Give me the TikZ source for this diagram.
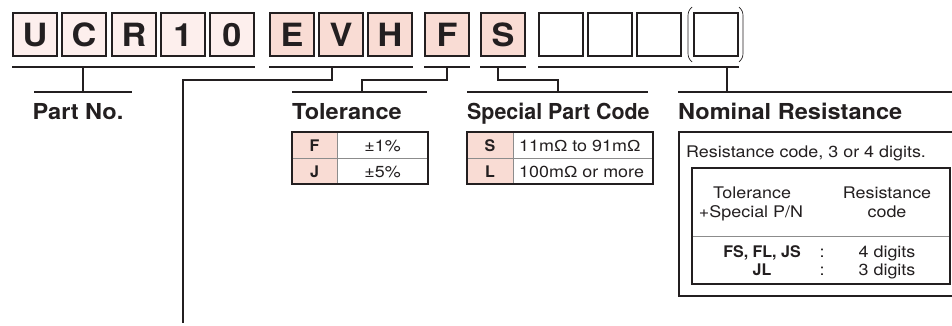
\documentclass[tikz,border=0pt]{standalone}
\usepackage{fontspec}
\setmainfont{TeX Gyre Heros}[FakeStretch=1.12]
\newfontfamily\hdfont{TeX Gyre Heros}[FakeStretch=1.07]
\newfontfamily\plainfont{TeX Gyre Heros}
\newfontfamily\omfont{Liberation Sans}[FakeStretch=1.12]
\newcommand{\Om}{{\omfont Ω}}
\definecolor{ink}{HTML}{231F20}
\definecolor{pinkA}{HTML}{FDEFED}
\definecolor{pinkB}{HTML}{F9DCD4}
\definecolor{rulegray}{HTML}{8C8C8C}
\tikzset{
  cbox/.style={draw=ink, line width=2.4pt, minimum width=43.6pt, minimum height=42.6pt,
    inner sep=0pt, outer sep=0pt, text=ink, font=\hdfont\bfseries\fontsize{32}{32}\selectfont,
    text height=23pt, text depth=0pt},
  lightbox/.style={cbox, fill=pinkA},
  darkbox/.style={cbox, fill=pinkB},
  blankbox/.style={cbox, fill=white},
  conn/.style={draw=ink, line width=2pt},
  paren/.style={draw=ink, line width=0.7pt},
  hd/.style={font=\hdfont\bfseries\fontsize{22}{22}\selectfont, text=ink, inner sep=0pt},
  body/.style={font=\fontsize{16}{16}\selectfont, text=ink, inner sep=0pt},
  bodyb/.style={font=\plainfont\bfseries\fontsize{16}{16}\selectfont, text=ink, inner sep=0pt},
  frame/.style={draw=ink, line width=2pt},
  thin/.style={draw=rulegray, line width=0.8pt}
}
\begin{document}
\begin{tikzpicture}[x=1pt,y=-1pt]
\useasboundingbox[fill=white] (0,0) rectangle (952,325);
% code boxes
\node[lightbox] (bU) at (35,34.5) {U};
\node[lightbox] (bC) at (84,34.5) {C};
\node[lightbox] (bR) at (134,34.5) {R};
\node[lightbox] (b1) at (183,34.5) {1};
\node[lightbox] (b0) at (232,34.5) {0};
\node[darkbox] (bE) at (292,34.5) {E};
\node[darkbox] (bV) at (341,34.5) {V};
\node[darkbox] (bH) at (390,34.5) {H};
\node[darkbox] (bF) at (447,34.5) {F};
\node[darkbox] (bS) at (503,34.5) {S};
\node[blankbox] (n1) at (561,34.5) {};
\node[blankbox] (n2) at (610,34.5) {};
\node[blankbox] (n3) at (659,34.5) {};
\node[blankbox] (n4) at (716,34.5) {};
% parentheses around the optional digit
\draw[paren] (692,7) .. controls (689,10) and (688,12) .. (688,16) -- (688,53) .. controls (688,57) and (689,59) .. (692,62);
\draw[paren] (739,7) .. controls (742,10) and (743,12) .. (743,16) -- (743,53) .. controls (743,57) and (742,59) .. (739,62);
% underlines
\coordinate (uPa) at (12,67);  \coordinate (uPb) at (255,67);
\coordinate (uEa) at (269,67); \coordinate (uEb) at (413,67);
\coordinate (uFa) at (424,67); \coordinate (uFb) at (470,67);
\coordinate (uSa) at (480,67); \coordinate (uSb) at (526,67);
\coordinate (uNa) at (538,67); \coordinate (uNb) at (739,67);
\draw[conn] (uPa) -- (uPb);
\draw[conn] (uEa) -- (uEb);
\draw[conn] (uFa) -- (uFb);
\draw[conn] (uSa) -- (uSb);
\draw[conn] (uNa) -- (uNb);
% heading bars
\coordinate (hPa) at (34,92);  \coordinate (hPb) at (132,92);
\coordinate (hTa) at (292,92); \coordinate (hTb) at (427,92);
\coordinate (hSa) at (467,92); \coordinate (hSb) at (648,92);
\coordinate (hNa) at (678,92); \coordinate (hNb) at (955,92);
\draw[conn] (hPa) -- (hPb);
\draw[conn] (hTa) -- (hTb);
\draw[conn] (hSa) -- (hSb);
\draw[conn] (hNa) -- (hNb);
% drops
\coordinate (dP) at (83,67);   \coordinate (dP2) at (83,92);
\coordinate (dE) at (332,67);  \coordinate (dEend) at (183,323);
\coordinate (dF) at (447,67);  \coordinate (dF2) at (362,92);
\coordinate (dS) at (498,67);  \coordinate (dS2) at (558,92);
\coordinate (dN) at (727,67);  \coordinate (dN2) at (727,92);
\draw[conn] (dP) -- (dP2);
\draw[conn] (dE) -- (332,80) -- (183,80) -- (dEend);
\draw[conn] (dF) -- (447,80) -- (362,80) -- (dF2);
\draw[conn] (dS) -- (498,80) -- (558,80) -- (dS2);
\draw[conn] (dN) -- (dN2);
% headings
\node[hd, anchor=base] (tPart) at (78,119) {Part No.};
\node[hd, anchor=base west] (tTol) at (292,119) {Tolerance};
\node[hd, anchor=base west] (tSpc) at (467,119) {\scalebox{0.91}[1]{Special Part Code}};
\node[hd, anchor=base west] (tNom) at (678,119) {Nominal Resistance};
% tolerance table
\fill[pinkB] (292,132) rectangle (337,184);
\draw[thin] (337,132) -- (337,184);
\draw[thin] (292,158) -- (428,158);
\draw[frame] (292,132) rectangle (428,184);
\node[bodyb, anchor=base] (tF) at (314.5,151) {F};
\node[bodyb, anchor=base] (tJ) at (314.5,177) {J};
\node[body, anchor=base] (tF1) at (382.5,151) {±1\%};
\node[body, anchor=base] (tJ5) at (382.5,177) {±5\%};
% special part code table
\fill[pinkB] (467,132) rectangle (513,184);
\draw[thin] (513,132) -- (513,184);
\draw[thin] (467,158) -- (653,158);
\draw[frame] (467,132) rectangle (653,184);
\node[bodyb, anchor=base] (sS) at (490,151) {S};
\node[bodyb, anchor=base] (sL) at (490,177) {L};
\node[body, anchor=base west] (sS1) at (519,151) {11m\Om{} to 91m\Om};
\node[body, anchor=base west] (sL1) at (519,177) {100m\Om{} or more};
% nominal resistance box
\draw[frame] (954,132) -- (679,132) -- (679,296) -- (954,296);
\node[body, anchor=base west] (nTxt) at (686,157) {Resistance code, 3 or 4 digits.};
\draw[thin] (692,236) -- (949,236);
\draw[frame] (692,168) rectangle (949.5,284);
\node[body, anchor=base] (hT1) at (752,198) {Tolerance};
\node[body, anchor=base] (hT2) at (751,217) {+Special P/N};
\node[body, anchor=base] (hR1) at (887,198) {Resistance};
\node[body, anchor=base] (hR2) at (887,217) {code};
\node[bodyb, anchor=base] (r1a) at (762,257) {FS, FL, JS};
\node[bodyb, anchor=base] (r2a) at (762,275) {JL};
\node[body, anchor=base] (r1c) at (822,257) {:};
\node[body, anchor=base] (r2c) at (822,275) {:};
\node[body, anchor=base] (r1b) at (887,257) {4 digits};
\node[body, anchor=base] (r2b) at (887,275) {3 digits};
\end{tikzpicture}
\end{document}
